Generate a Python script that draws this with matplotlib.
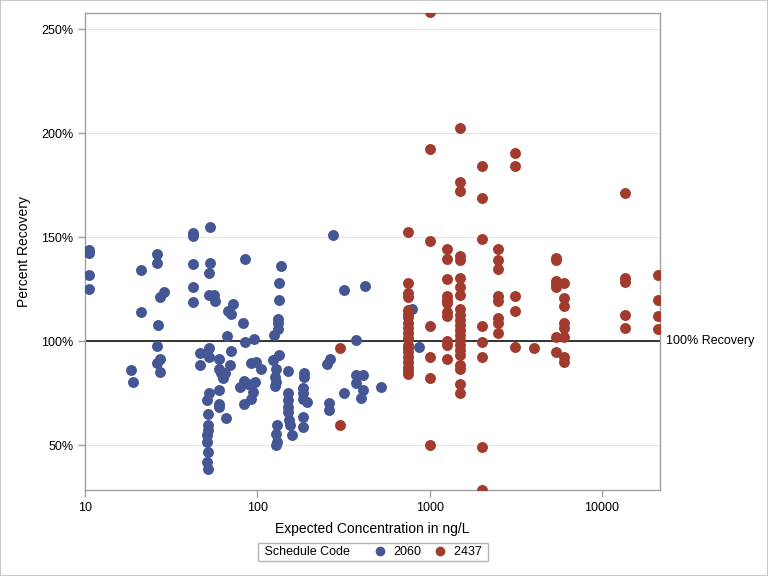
import matplotlib
matplotlib.use("Agg")
import matplotlib.pyplot as plt
from matplotlib.lines import Line2D
from matplotlib.patches import Rectangle
from matplotlib.offsetbox import HPacker
from matplotlib.ticker import FixedLocator, NullLocator, FuncFormatter

plt.rcParams['font.family'] = ['Liberation Sans', 'DejaVu Sans']

# schedule 2060 (blue): expected concentration (ng/L), percent recovery
conc_2060 = [10.5, 10.6, 10.6, 10.5, 18.6, 18.9, 21.0, 21.2, 26.3, 26.3,
             27.2, 28.6, 26.5, 26.3, 26.3, 27.3, 27.1, 42.3, 42.5, 42.3,
             42.3, 42.3, 46.5, 46.5, 53.0, 53.0, 52.2, 52.2, 55.9, 56.5,
             52.2, 52.2, 52.2, 51.0, 51.5, 51.5, 51.5, 51.0, 51.0, 52.0,
             51.0, 52.0, 60.3, 60.3, 61.8, 63.4, 65.0, 60.3, 60.3, 60.3,
             65.6, 66.5, 67.4, 70.6, 72.2, 70.3, 69.2, 82.8, 84.3, 95.7,
             84.5, 91.8, 98.0, 104.9, 79.0, 84.0, 88.6, 97.0, 94.5, 91.8,
             84.0, 136.6, 133.0, 134.0, 132.5, 132.0, 125.0, 123.7, 133.0, 127.5,
             126.5, 127.5, 126.5, 130.0, 127.5, 130.0, 127.5, 275.0, 319.0, 421.0,
             372.0, 151.0, 185.7, 187.6, 185.0, 185.0, 185.0, 195.0, 185.0, 185.0,
             151.0, 151.0, 151.0, 151.0, 152.5, 155.0, 158.0, 265.0, 252.0, 259.0,
             259.0, 319.0, 372.0, 372.0, 411.0, 411.0, 400.0, 520.0, 786.0, 867.0,
             132.0]
rec_2060 = [143.7, 142.3, 131.6, 124.9, 86.1, 80.1, 134.0, 113.9, 141.8, 137.3,
            121.0, 123.4, 107.5, 97.7, 89.3, 91.3, 85.0, 152.1, 150.6, 136.9,
            125.8, 118.6, 94.1, 88.3, 154.7, 137.3, 132.5, 122.1, 122.1, 119.4,
            96.6, 92.5, 74.9, 71.6, 64.8, 59.6, 57.2, 54.8, 51.3, 46.5,
            41.7, 38.3, 91.2, 86.4, 84.5, 82.1, 84.5, 76.4, 69.7, 68.4,
            62.8, 102.4, 114.4, 112.8, 117.8, 95.2, 88.3, 108.7, 99.5, 101.0,
            139.3, 89.3, 89.9, 86.4, 77.7, 80.8, 79.3, 80.4, 75.6, 72.0,
            69.7, 135.9, 128.0, 119.6, 110.4, 108.5, 103.0, 90.9, 93.1, 86.4,
            82.8, 80.4, 78.4, 59.6, 55.1, 51.6, 50.0, 150.8, 124.4, 126.3,
            100.5, 85.7, 84.8, 82.5, 77.3, 74.8, 72.0, 70.8, 63.3, 58.5,
            74.9, 71.6, 68.4, 66.0, 62.0, 59.6, 54.8, 91.2, 88.8, 70.0,
            66.8, 75.0, 83.5, 79.7, 83.5, 76.3, 72.4, 77.9, 115.2, 97.3,
            105.6]

# schedule 2437 (red)
conc_2437 = ([301] * 2 + [748] * 19 + [1006] * 7 + [1256] * 11 + [1501] * 22
             + [2009] * 8 + [2497] * 8 + [3126] * 5 + [4050] + [5400] * 7
             + [5980] * 8 + [13600] * 5 + [21200] * 4)
rec_2437 = [96.5, 59.5,
            152.3, 128.0, 122.9, 121.3, 114.9, 113.0, 111.5, 108.5, 106.1, 103.7,
            101.3, 98.1, 96.5, 94.9, 92.5, 90.0, 87.6, 86.0, 84.1,
            258.0, 192.2, 148.1, 107.1, 92.2, 82.4, 49.9,
            144.1, 139.3, 129.7, 121.6, 119.7, 118.1, 114.1, 112.0, 100.1, 98.1, 91.2,
            202.3, 176.3, 172.3, 140.9, 139.0, 130.1, 126.1, 122.0, 115.2, 112.5, 110.1,
            107.7, 105.3, 102.9, 100.5, 98.1, 95.7, 93.3, 88.5, 86.5, 79.3, 74.9,
            184.1, 168.6, 149.0, 107.1, 99.4, 92.2, 49.0, 28.6,
            144.1, 138.9, 134.6, 121.6, 119.2, 110.9, 108.5, 103.7,
            190.2, 184.1, 121.6, 114.4, 97.3,
            96.5,
            140.0, 139.0, 129.0, 127.4, 125.8, 101.8, 94.9,
            127.7, 120.8, 117.0, 108.5, 106.1, 101.8, 92.5, 90.0,
            171.2, 130.1, 128.5, 112.5, 106.1,
            131.6, 119.6, 112.0, 105.6]

codes = ['2060', '2437']
colors = ['#445694', '#A23A2E']
x_ticks = [10, 100, 1000, 10000]
y_ticks = [50, 100, 150, 200, 250]

fig = plt.figure(figsize=(7.68, 5.76), dpi=100)
ax = fig.add_axes([85 / 768, 1 - 490 / 576, 575 / 768, 477 / 576])

ax.set_xscale('log')
ax.set_xlim(10, 21700)
ax.set_ylim(28.4, 257.7)

for y in y_ticks:
    ax.axhline(y, color='#E4E4E4', lw=0.9, zorder=0)
ax.axhline(100, color='black', lw=1.1, zorder=1)

ax.scatter(conc_2060, rec_2060, s=62, color=colors[0], linewidths=0, zorder=3)
ax.scatter(conc_2437, rec_2437, s=62, color=colors[1], linewidths=0, zorder=3)

ax.text(1.01, (100 - 28.4) / (257.7 - 28.4), '100% Recovery', transform=ax.transAxes,
        ha='left', va='center', fontsize=9)

ax.xaxis.set_major_locator(FixedLocator(x_ticks))
ax.xaxis.set_minor_locator(NullLocator())
ax.xaxis.set_major_formatter(FuncFormatter(lambda v, p: f'{v:g}'))
ax.yaxis.set_major_locator(FixedLocator(y_ticks))
ax.yaxis.set_major_formatter(FuncFormatter(lambda v, p: f'{v:g}%'))
ax.tick_params(axis='both', labelsize=9, color='#A0A0A0', length=5, width=1)

for s in ax.spines.values():
    s.set_color('#A0A0A0')
    s.set_linewidth(1)

ax.set_xlabel('Expected Concentration in ng/L', fontsize=10, labelpad=6)
ax.set_ylabel('Percent Recovery', fontsize=10, labelpad=7)

# legend: title on the left, entries in one row
handles = [Line2D([], [], linestyle='none', marker='o', markersize=7,
                  markerfacecolor=c, markeredgewidth=0) for c in colors]
leg = fig.legend(handles, [codes[0], codes[1] + ' '], ncol=2, loc='center',
                 bbox_to_anchor=(373 / 768, 1 - 552 / 576), fontsize=9,
                 title=' Schedule Code', title_fontsize=9,
                 frameon=True, fancybox=False, edgecolor='#A0A0A0',
                 handlelength=0.8, handletextpad=0.7, columnspacing=1.1,
                 labelspacing=2.0, borderpad=0.25)
leg._legend_box.__class__ = HPacker
leg._legend_box.align = 'center'
leg.get_frame().set_linewidth(1)

fig.patches.append(Rectangle((0, 0), 1, 1, transform=fig.transFigure, fill=False,
                             edgecolor='#C8C8C8', lw=1.5))

fig.savefig('out.png', dpi=100)
